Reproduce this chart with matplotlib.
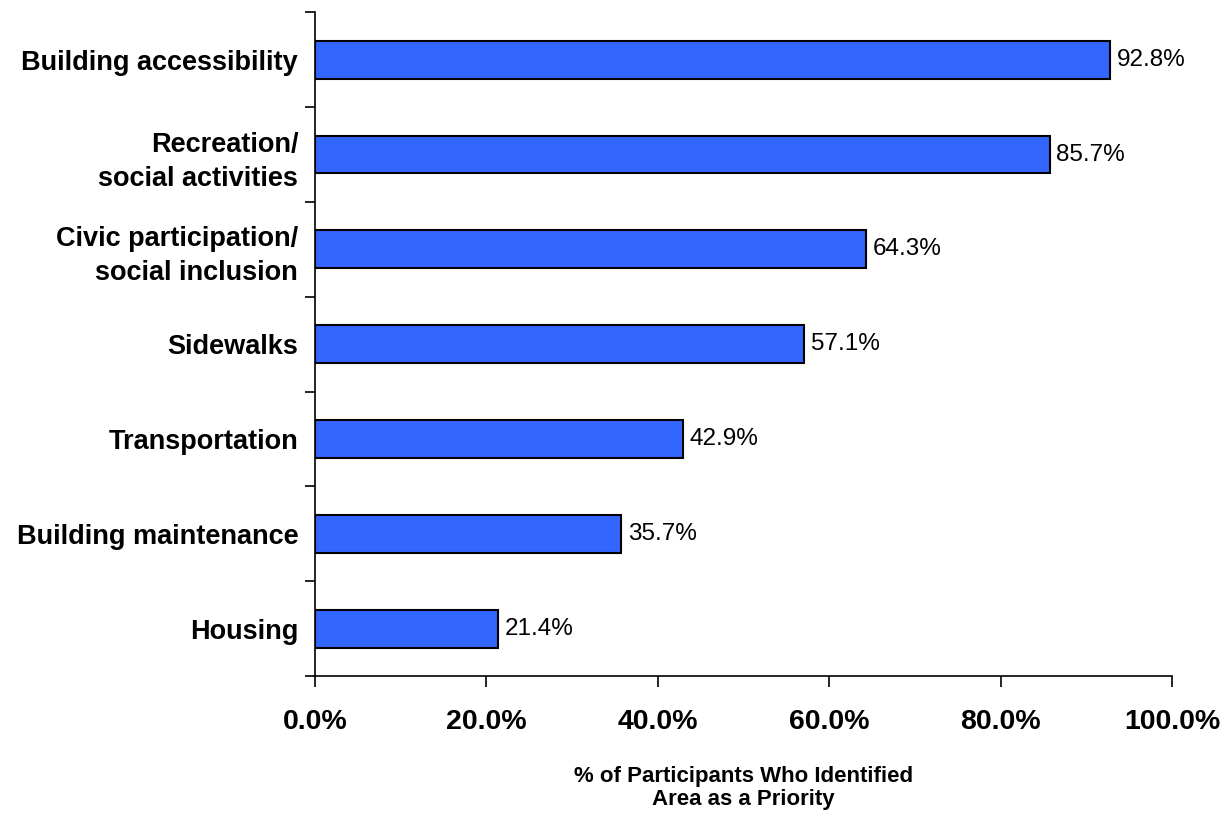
import matplotlib
matplotlib.use("Agg")
import matplotlib.pyplot as plt
import numpy as np

plt.rcParams['font.family'] = ['Liberation Sans', 'DejaVu Sans']

categories = ["Building accessibility", "Recreation/\nsocial activities",
              "Civic participation/\nsocial inclusion", "Sidewalks",
              "Transportation", "Building maintenance", "Housing"]
values = [92.8, 85.7, 64.3, 57.1, 42.9, 35.7, 21.4]
xticks = [0, 20, 40, 60, 80, 100]

fig = plt.figure(figsize=(12.3, 8.21), dpi=100)
ax = fig.add_axes([0.256, 0.1766, 0.697, 0.8084])

y = np.arange(len(categories))[::-1]
ax.barh(y, values, height=0.4, color="#3366FF", edgecolor="black", linewidth=1.5)
for yi, v in zip(y, values):
    ax.text(v + 0.8, yi, f"{v:.1f}%", va="center", ha="left", fontsize=17.5)

ax.set_xlim(0, 100)
ax.set_ylim(-0.5, len(categories) - 0.5)
ax.set_xticks(xticks)
ax.set_xticklabels([f"{t:.1f}%" for t in xticks], fontsize=20.5, fontweight="bold")
ax.tick_params(axis="x", direction="out", length=8, width=1.2, pad=16)

ax.set_yticks(np.arange(len(categories) + 1) - 0.5)
ax.set_yticklabels([])
ax.tick_params(axis="y", direction="out", length=7, width=1.2)
ax.set_yticks(y, minor=True)
ax.set_yticklabels(categories, minor=True, fontsize=19.5, fontweight="bold",
                   ha="right", linespacing=1.4)
ax.tick_params(axis="y", which="minor", length=0, pad=12)

for s in ["top", "right"]:
    ax.spines[s].set_visible(False)
ax.spines["left"].set_linewidth(1.2)
ax.spines["bottom"].set_linewidth(1.2)

ax.set_xlabel("% of Participants Who Identified\nArea as a Priority", fontsize=16,
              fontweight="bold", labelpad=22, linespacing=1.15)

fig.savefig("out.png", dpi=100)
